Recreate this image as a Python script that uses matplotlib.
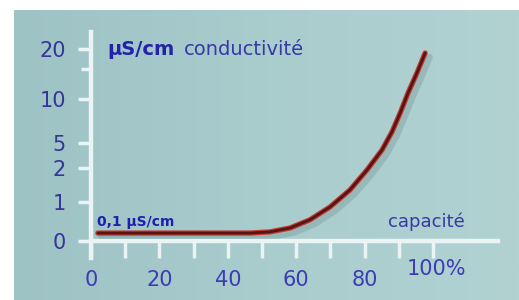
import numpy as np
from matplotlib import pyplot as plt
from matplotlib import patheffects as pe
from matplotlib import transforms as mtrans

# capacité (%) vs conductivité (µS/cm)
capacity = [2, 10, 20, 30, 40, 46.5, 52.3, 58.2, 64.0, 69.9, 75.7, 80.7,
            85.1, 88.0, 90.4, 92.7, 95.3, 97.7]
conductivity = [0.2, 0.2, 0.2, 0.2, 0.2, 0.2, 0.23, 0.33, 0.54, 0.87, 1.35, 1.94,
                4.16, 6.25, 8.41, 11.2, 15.2, 19.2]

y_ticks = [0, 1, 2, 5, 10, 20]
x_major = [0, 20, 40, 60, 80, 100]
x_labels = ['0', '20', '40', '60', '80', '']
x_minor = [10, 30, 50, 70, 90]

# the y axis of the drawing is hand-made: spacing between ticks is irregular
knot_vals = np.array([-1, 0, 1, 2, 5, 10, 20, 30])
knot_pos = np.array([280, 241, 202, 168, 143, 99, 49, -1])


def fwd(v):
    return -np.interp(v, knot_vals, knot_pos)


def inv(u):
    return np.interp(-u, knot_pos[::-1], knot_vals[::-1])


fig = plt.figure(figsize=(5.19, 3.0), dpi=100)
fig.patch.set_facecolor('white')

# teal background panel
bg = fig.add_axes([14 / 519, 0, 505 / 519, 290 / 300])
grad = np.linspace(0, 1, 256).reshape(1, -1)
cmap = plt.matplotlib.colors.LinearSegmentedColormap.from_list(
    'bg', ['#9ec3c5', '#a9cccd', '#b2d2d2'])
bg.imshow(grad, aspect='auto', cmap=cmap, extent=[0, 1, 0, 1])
bg.set_axis_off()

ax = fig.add_axes([91 / 519, 1 - 258 / 300, (498 - 91) / 519, (258 - 32) / 300])
ax.set_facecolor('none')
ax.set_yscale('function', functions=(fwd, inv))
ax.set_xlim(0, 119)
ax.set_ylim(-0.44, 23.4)

axis_col = '#eaf4f4'
for s in ['top', 'right']:
    ax.spines[s].set_visible(False)
ax.spines['bottom'].set_position(('data', 0))
for s in ['left', 'bottom']:
    ax.spines[s].set_color(axis_col)
    ax.spines[s].set_linewidth(3.2)

ax.set_yticks(y_ticks)
ax.set_yticklabels([str(v) for v in y_ticks])
ax.set_yticks([16], minor=True)
ax.tick_params(axis='y', which='major', direction='out', length=9.5, width=2.5,
               color=axis_col, pad=8.5, labelsize=15, labelcolor='#35359a')
ax.tick_params(axis='y', which='minor', direction='out', length=7, width=2.5,
               color=axis_col)

ax.set_xticks(x_major)
ax.set_xticklabels(x_labels)
ax.set_xticks(x_minor, minor=True)
ax.tick_params(axis='x', which='both', direction='out', length=12, width=2.5,
               color=axis_col, pad=9, labelsize=15, labelcolor='#3c3cb4')

# "100%" label, with the 100 centred on its tick
off = mtrans.offset_copy(ax.get_xaxis_transform(), fig=fig, x=-26, y=0, units='dots')
ax.text(100, -0.005, '100%', transform=off, ha='left', va='top',
        fontsize=15, color='#3c3cb4')
for lab in ax.get_xticklabels():
    lab.set_y(-0.005)

# the curve: dark core, red rim, soft shadow
ax.plot(capacity, conductivity, color='#bf3a30', lw=3.8,
        solid_capstyle='round', solid_joinstyle='round',
        path_effects=[pe.SimpleLineShadow(offset=(3, -3), shadow_color='#4d6f70',
                                          alpha=0.22, linewidth=5),
                      pe.Normal()])
ax.plot(capacity, conductivity, color='#561414', lw=2.0,
        solid_capstyle='round', solid_joinstyle='round')

ax.text(4.7, 19.8, 'µS/cm', fontsize=14, fontweight='bold', color='#2222aa',
        va='center', ha='left')
ax.text(27.2, 19.8, 'conductivité', fontsize=14, color='#3838a8',
        va='center', ha='left')
ax.text(1.8, 0.49, '0,1 µS/cm', fontsize=10, fontweight='bold', color='#2020b0',
        va='center', ha='left')
ax.text(86.8, 0.49, 'capacité', fontsize=13, color='#3838a8',
        va='center', ha='left')

fig.savefig('out.png', dpi=100)
